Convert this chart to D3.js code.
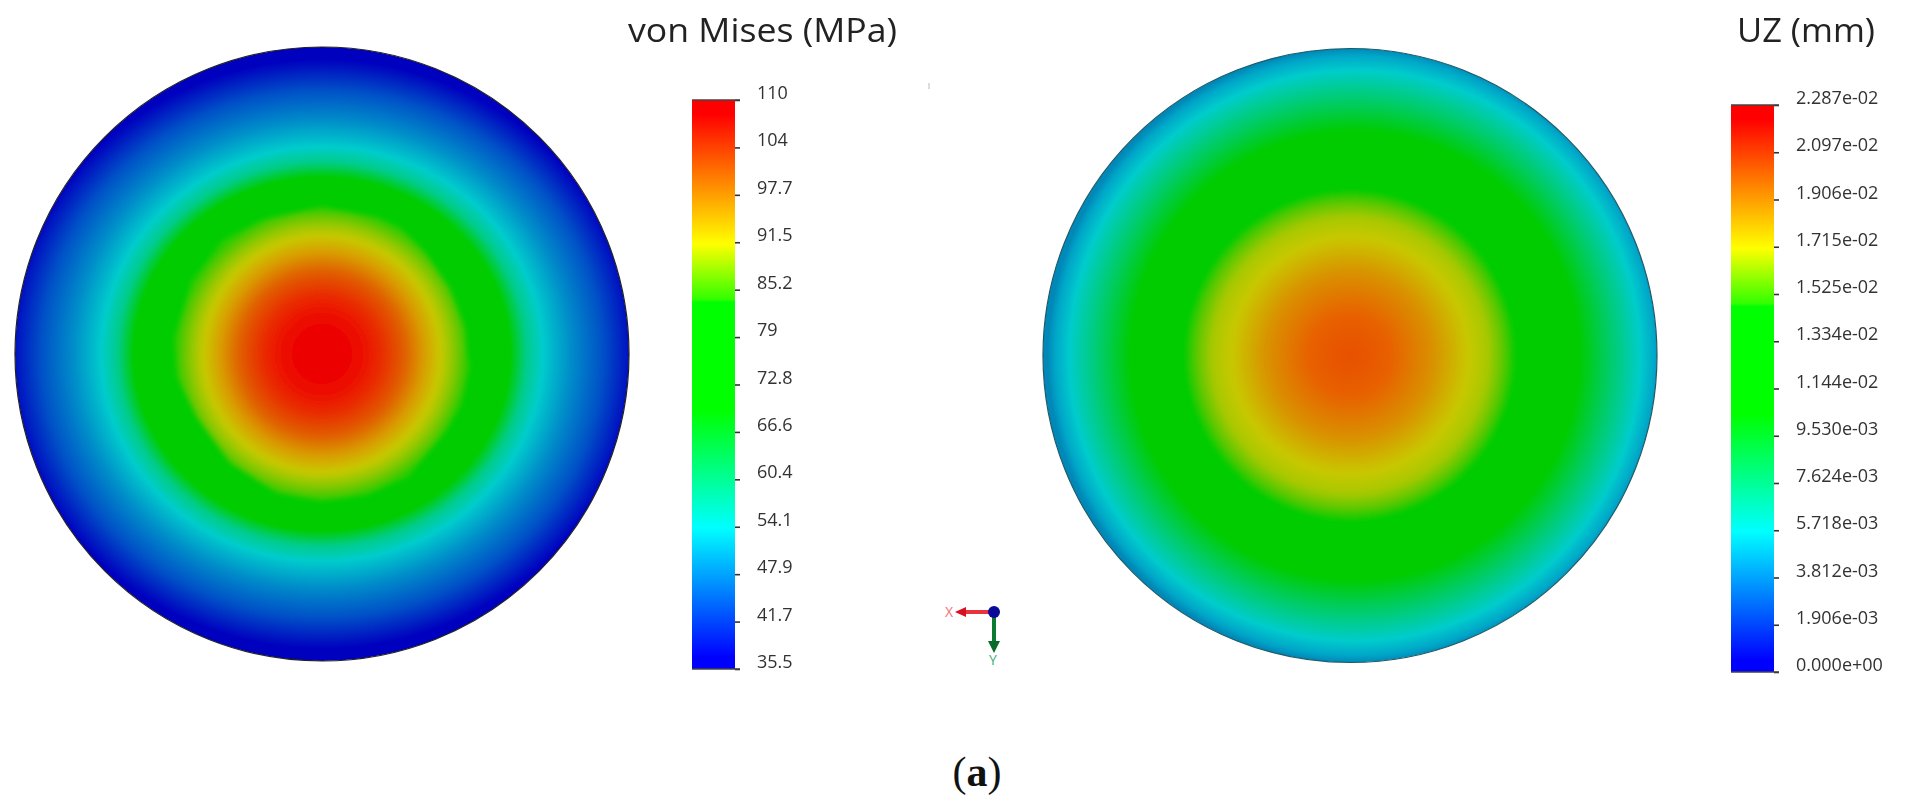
<!DOCTYPE html>
<html><head><meta charset="utf-8">
<script src="https://cdn.jsdelivr.net/npm/d3@7"></script>
<style>html,body{margin:0;background:#fff;overflow:hidden}svg{display:block}
text{font-family:"Open Sans",sans-serif}</style></head><body>
<svg id="c" width="1905" height="809"></svg>
<script>
// Legend tick labels
const vmTicks=["110","104","97.7","91.5","85.2","79","72.8","66.6","60.4","54.1","47.9","41.7","35.5"];
const uzTicks=["2.287e-02","2.097e-02","1.906e-02","1.715e-02","1.525e-02","1.334e-02","1.144e-02","9.530e-03","7.624e-03","5.718e-03","3.812e-03","1.906e-03","0.000e+00"];
// Legend colour ramp: fraction of range (0 = min, 1 = max) -> colour
const rampT=[0,0.02,0.248,0.455,0.645,0.649,0.747,0.975,1];
const rampC=["#0000ff","#0000ff","#00ffff","#00ff00","#00ff00","#30ff00","#ffff00","#ff0000","#ff0000"];
// von Mises field (radius as a fraction of the disc)
const vmMin=35.5, vmMax=110;
const vmRimR=[0,0.575,0.625,0.675,0.76,0.86,0.96];
const vmRimV=[79,69.4,59,54,49,43.8,37];
const vmRimS=[0.8,0.8,0.8,0.8,0.79,0.78,0.75];
const vmCoreR=[0,0.08,0.14,0.2,0.27,0.33,0.385,0.42,0.45,0.475,0.5];
const vmCoreV=[108.4,108.1,106.8,104.6,100.9,96,91.15,89,86.5,84,84];
const vmCoreS=[0.93,0.93,0.925,0.91,0.88,0.85,0.785,0.785,0.785,0.8,0.8];
const vmOutlineA=[0,22,32,45,63,80,90,95,110,122,145,162,180,198,220,243,261,276,299,319,337];
const vmOutlineR=[0.48,0.481,0.485,0.473,0.469,0.475,0.473,0.484,0.483,0.476,0.489,0.483,0.48,0.476,0.465,0.457,0.479,0.485,0.487,0.493,0.479];
// UZ field
const uzMin=0, uzMax=0.02287;
const uzRimR=[0,0.73,0.82,0.93,0.977,1];
const uzRimV=[0.012,0.0104,0.00819,0.00567,0.00478,0.00435];
const uzRimS=[0.8,0.8,0.8,0.8,0.785,0.72];
const uzCoreR=[0,0.13,0.27,0.385,0.45,0.5,0.54];
const uzCoreV=[0.0205,0.02015,0.0188,0.01708,0.01663,0.01555,0.01475];
const uzCoreS=[0.91,0.91,0.85,0.785,0.785,0.785,0.8];
const uzOutlineA=[0,45,90,135,180,225,270,315];
const uzOutlineR=[0.54,0.54,0.54,0.54,0.54,0.54,0.54,0.54];

const svg=d3.select("#c"), defs=svg.append("defs");
defs.append("filter").attr("id","soft").attr("x","-10%").attr("y","-10%").attr("width","120%").attr("height","120%")
  .append("feGaussianBlur").attr("stdDeviation",2.5);
defs.append("filter").attr("id","txt").append("feGaussianBlur").attr("stdDeviation",0.35);
const ramp=d3.scaleLinear().domain(rampT).range(rampC).interpolate(d3.interpolateRgb).clamp(true);
function shaded(t,s){const c=d3.rgb(ramp(t));return d3.rgb(c.r*s,c.g*s,c.b*s).formatRgb();}

function radial(id,R,rs,vs,ss,norm,tf){
  const g=defs.append("radialGradient").attr("id",id).attr("gradientUnits","userSpaceOnUse")
    .attr("cx",0).attr("cy",0).attr("r",R);
  if(tf) g.attr("gradientTransform",tf);
  g.selectAll("stop").data(rs).join("stop")
    .attr("offset",d=>d).attr("stop-color",(d,i)=>shaded(norm(vs[i]),ss[i]));
}
function disc(id,cx,cy,R,F){
  const norm=d3.scaleLinear().domain([F.min,F.max]).range([0,1]);
  radial(id+"rim",R,F.rimR,F.rimV,F.rimS,norm,F.rimTf);
  radial(id+"core",R,F.coreR,F.coreV,F.coreS,norm);
  const g=svg.append("g").attr("transform",`translate(${cx},${cy})`);
  const cp=id+"clip";
  defs.append("clipPath").attr("id",cp).append("circle").attr("r",R);
  const inner=g.append("g").attr("clip-path",`url(#${cp})`);
  inner.append("circle").attr("r",R).attr("fill",`url(#${id}rim)`);
  const rs=d3.scaleLinear().domain([0,1]).range([0,R]);
  const line=d3.lineRadial().curve(F.smooth?d3.curveCatmullRomClosed:d3.curveLinearClosed)
    .angle(d=>d.a*Math.PI/180).radius(d=>rs(d.r));
  inner.append("path").datum(F.oa.map((a,i)=>({a,r:F.or[i]})))
    .attr("d",line).attr("fill",`url(#${id}core)`).attr("filter","url(#soft)");
  g.append("circle").attr("r",R).attr("fill","none").attr("stroke",F.edge).attr("stroke-width",1.2);
}
disc("vm",322,354,307,{min:vmMin,max:vmMax,rimR:vmRimR,rimV:vmRimV,rimS:vmRimS,coreR:vmCoreR,coreV:vmCoreV,coreS:vmCoreS,
  oa:vmOutlineA,or:vmOutlineR,edge:"#222",rimTf:"scale(1.065,1)"});
disc("uz",1350,355.5,307,{min:uzMin,max:uzMax,rimR:uzRimR,rimV:uzRimV,rimS:uzRimS,coreR:uzCoreR,coreV:uzCoreV,coreS:uzCoreS,
  oa:uzOutlineA,or:uzOutlineR,edge:"#1c5a66",smooth:true,rimTf:"translate(5,0)"});

function legend(id,x,top,bot,labels,title,titleEnd,titleLen,labelX){
  const w=43;
  const g=defs.append("linearGradient").attr("id",id).attr("x1",0).attr("x2",0).attr("y1",1).attr("y2",0);
  g.selectAll("stop").data(rampT).join("stop").attr("offset",d=>d).attr("stop-color",(d,i)=>rampC[i]);
  svg.append("rect").attr("x",x).attr("y",top).attr("width",w).attr("height",bot-top).attr("fill",`url(#${id})`);
  const y=d3.scalePoint().domain(labels).range([top,bot]);
  const ax=svg.append("g").attr("transform",`translate(${x+w},0)`)
    .call(d3.axisRight(y).tickSize(5).tickPadding(labelX-x-w-5));
  ax.select(".domain").remove();
  ax.selectAll("line").attr("stroke","#333").attr("stroke-width",1.6);
  ax.selectAll("text").attr("font-size",18).attr("font-family",'"Open Sans",sans-serif')
    .attr("fill","#333").attr("dy",-1.5).attr("filter","url(#txt)");
  [top,bot].forEach(v=>svg.append("line").attr("x1",x).attr("x2",x+w+5).attr("y1",v).attr("y2",v)
     .attr("stroke","#444").attr("stroke-width",1.6));
  svg.append("text").attr("x",titleEnd-titleLen).attr("y",42)
    .attr("font-size",33.5).attr("fill","#222").attr("filter","url(#txt)")
    .attr("textLength",titleLen).attr("lengthAdjust","spacingAndGlyphs").text(title);
}
legend("lgVm",692,100,669,vmTicks,"von Mises (MPa)",897,269,757);
legend("lgUz",1731,105,672,uzTicks,"UZ (mm)",1875,138,1796);

// Orientation triad
const tr=svg.append("g").attr("transform","translate(994,612)");
tr.append("line").attr("x1",0).attr("x2",-30).attr("y1",0).attr("y2",0).attr("stroke","#e8323c").attr("stroke-width",4);
tr.append("path").attr("d","M-39,0L-28,-5L-28,5Z").attr("fill","#d81020");
tr.append("line").attr("x1",0).attr("x2",0).attr("y1",0).attr("y2",30).attr("stroke","#0c7a32").attr("stroke-width",4);
tr.append("path").attr("d","M0,41L-6,29L6,29Z").attr("fill","#0a6a2a");
tr.append("circle").attr("r",6).attr("fill","#0a0a9a");
tr.append("text").attr("x",-45).attr("y",5).attr("text-anchor","middle").attr("font-size",14).attr("fill","#f0707a").text("X");
tr.append("text").attr("x",-1).attr("y",53).attr("text-anchor","middle").attr("font-size",14).attr("fill","#40b070").text("Y");
svg.append("line").attr("x1",929).attr("x2",929).attr("y1",83).attr("y2",89).attr("stroke","#bbb").attr("stroke-width",1);

// Caption
const cap=svg.append("text").attr("x",977).attr("y",786).attr("text-anchor","middle").attr("font-size",42)
  .attr("fill","#111").style("font-family",'"Liberation Serif",serif');
cap.append("tspan").text("(");
cap.append("tspan").attr("font-weight","bold").text("a");
cap.append("tspan").text(")");
</script></body></html>
